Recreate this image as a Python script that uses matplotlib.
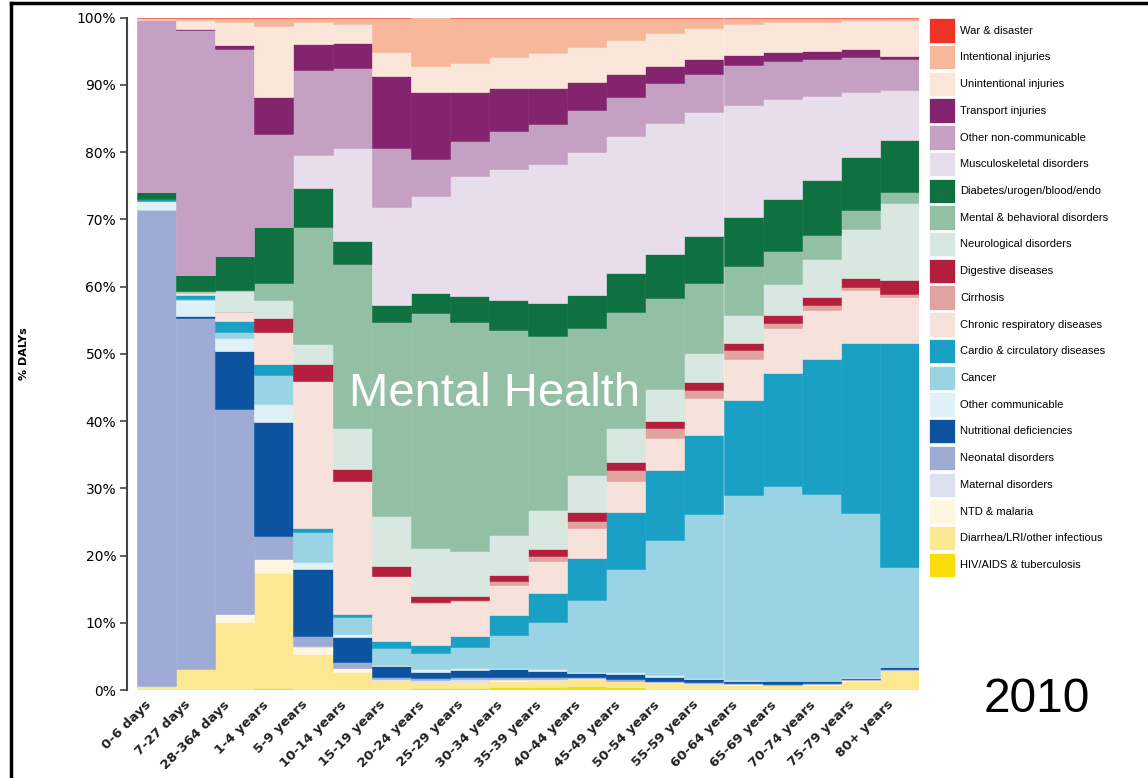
import numpy as np
import matplotlib
matplotlib.use("Agg")
import matplotlib.pyplot as plt
import matplotlib.transforms as mtransforms
from matplotlib.patches import Patch
from matplotlib.lines import Line2D

ages = ['0-6 days', '7-27 days', '28-364 days', '1-4 years', '5-9 years', '10-14 years',
        '15-19 years', '20-24 years', '25-29 years', '30-34 years', '35-39 years',
        '40-44 years', '45-49 years', '50-54 years', '55-59 years', '60-64 years',
        '65-69 years', '70-74 years', '75-79 years', '80+ years']

# % of DALYs per cause, bottom of the stack first
hiv = [0, 0, 0.2, 0.3, 0.2, 0.1, 0.1, 0.3, 0.3, 0.4, 0.5, 0.6, 0.4, 0.1, 0.05, 0.05, 0.05, 0.05, 0.05, 0]
diarrhea = [0.65, 3.05, 9.85, 17.05, 5.1, 2.6, 1.2, 0.9, 0.9, 1.0, 1.0, 1.0, 0.9, 1.0, 0.85, 0.75, 0.65, 0.75, 1.35, 3.0]
ntd = [0, 0, 1.2, 2.15, 1.15, 0.5, 0.1, 0.05, 0.05, 0.05, 0.05, 0.05, 0.05, 0.05, 0.05, 0.05, 0.05, 0.05, 0.05, 0.02]
maternal = [0, 0, 0, 0, 0.1, 0, 0.2, 0.3, 0.35, 0.2, 0.15, 0.1, 0.05, 0.05, 0.05, 0.02, 0.02, 0.02, 0.02, 0]
neonatal = [70.75, 52.25, 30.5, 3.45, 1.5, 1.0, 0.4, 0.2, 0.3, 0.3, 0.3, 0.2, 0.2, 0.2, 0.2, 0.13, 0.13, 0.13, 0.13, 0.03]
nutritional = [0, 0.3, 8.65, 16.95, 9.9, 3.65, 1.5, 1.0, 1.1, 1.15, 0.9, 0.65, 0.8, 0.6, 0.5, 0.4, 0.45, 0.35, 0.25, 0.4]
other_comm = [1.3, 2.4, 1.9, 2.6, 1.15, 0.55, 0.2, 0.3, 0.2, 0.2, 0.2, 0.15, 0.3, 0.2, 0.05, 0.05, 0.05, 0.05, 0.15, 0]
cancer = [0.1, 0.15, 0.9, 4.4, 4.4, 2.4, 2.6, 2.45, 3.15, 4.9, 7.05, 10.65, 15.25, 20.1, 24.45, 27.55, 28.95, 27.75, 24.3, 14.8]
cardio = [0.2, 0.65, 1.7, 1.6, 0.6, 0.55, 1.0, 1.25, 1.65, 2.9, 4.35, 6.25, 8.6, 10.4, 11.7, 14.1, 16.75, 20.15, 25.35, 33.4]
chronic_resp = [0, 0.2, 1.3, 4.8, 21.9, 19.8, 9.7, 6.2, 5.2, 4.55, 4.75, 4.4, 4.6, 4.85, 5.5, 6.1, 6.7, 7.2, 7.85, 6.85]
cirrhosis = [0, 0, 0, 0, 0, 0, 0, 0.2, 0.2, 0.5, 0.75, 1.1, 1.55, 1.35, 1.2, 1.4, 0.75, 0.8, 0.4, 0.4]
digestive = [0, 0, 0, 2.1, 2.5, 1.75, 1.4, 0.8, 0.6, 0.9, 1.0, 1.3, 1.15, 1.15, 1.25, 1.0, 1.25, 1.2, 1.45, 2.1]
neuro = [0.1, 0.2, 3.1, 2.6, 2.9, 6.0, 7.5, 7.15, 6.7, 6.05, 5.8, 5.5, 5.05, 4.65, 4.25, 4.2, 4.55, 5.6, 7.25, 11.4]
mental = [0, 0.1, 0.2, 2.6, 17.4, 24.5, 28.9, 34.95, 34.1, 30.4, 25.9, 21.85, 17.3, 13.65, 10.5, 7.2, 5.0, 3.6, 2.8, 1.7]
diabetes = [1.0, 2.5, 5.1, 8.2, 5.85, 3.4, 2.4, 3.0, 3.75, 4.45, 4.8, 5.0, 5.8, 6.45, 6.95, 7.4, 7.65, 8.1, 7.85, 7.7]
musculo = [0, 0, 0, 0, 4.95, 13.8, 14.6, 14.4, 17.85, 19.6, 20.8, 21.2, 20.45, 19.6, 18.45, 16.6, 14.9, 12.5, 9.75, 7.45]
other_ncd = [25.6, 36.3, 30.7, 13.85, 12.6, 11.9, 8.8, 5.6, 5.2, 5.6, 5.9, 6.2, 5.8, 5.85, 5.6, 5.9, 5.7, 5.55, 5.2, 4.55]
transport = [0, 0.2, 0.7, 5.55, 3.9, 3.7, 10.8, 9.9, 7.3, 6.4, 5.3, 4.2, 3.35, 2.55, 2.2, 1.55, 1.25, 1.15, 1.1, 0.5]
unintentional = [0.1, 1.3, 3.3, 10.5, 3.3, 2.9, 3.5, 3.9, 4.35, 4.6, 5.2, 5.3, 5.1, 4.85, 4.6, 4.6, 4.45, 4.3, 4.35, 5.4]
intentional = [0.2, 0.4, 0.7, 1.3, 0.6, 0.9, 5.1, 7.2, 6.75, 5.85, 5.3, 4.3, 3.3, 2.35, 1.6, 0.95, 0.7, 0.7, 0.35, 0.3]
war = [0, 0, 0, 0, 0, 0, 0, 0, 0, 0, 0, 0, 0, 0, 0, 0, 0, 0, 0, 0]

series = [
    ("HIV/AIDS & tuberculosis", hiv, "#f9dc0a"),
    ("Diarrhea/LRI/other infectious", diarrhea, "#fbe891"),
    ("NTD & malaria", ntd, "#fef6df"),
    ("Maternal disorders", maternal, "#dde1ef"),
    ("Neonatal disorders", neonatal, "#9eabd4"),
    ("Nutritional deficiencies", nutritional, "#0c54a0"),
    ("Other communicable", other_comm, "#dff0f6"),
    ("Cancer", cancer, "#9ad4e4"),
    ("Cardio & circulatory diseases", cardio, "#1aa0c4"),
    ("Chronic respiratory diseases", chronic_resp, "#f6e1db"),
    ("Cirrhosis", cirrhosis, "#e0a39f"),
    ("Digestive diseases", digestive, "#b31f3c"),
    ("Neurological disorders", neuro, "#d8e7e0"),
    ("Mental & behavioral disorders", mental, "#93bfa5"),
    ("Diabetes/urogen/blood/endo", diabetes, "#0f7040"),
    ("Musculoskeletal disorders", musculo, "#e8ddea"),
    ("Other non-communicable", other_ncd, "#c4a0c3"),
    ("Transport injuries", transport, "#84246f"),
    ("Unintentional injuries", unintentional, "#fbe7da"),
    ("Intentional injuries", intentional, "#f7b79b"),
    ("War & disaster", war, "#ee3224"),
]

fig = plt.figure(figsize=(11.48, 7.78), dpi=100)
ax = fig.add_axes([137 / 1148, 88 / 778, 782 / 1148, 672.3 / 778])

x = np.arange(len(ages))
bottom = np.zeros(len(ages))
for name, vals, col in series:
    v = np.array(vals, dtype=float)
    ax.bar(x, v, bottom=bottom, width=1.0, color=col, linewidth=0.4, edgecolor=col, label=name)
    bottom += v

ax.set_xlim(-0.5, len(ages) - 0.5)
ax.set_ylim(0, 100)
ax.set_yticks(np.arange(0, 101, 10))
ax.set_yticklabels(["%d%%" % t for t in range(0, 101, 10)], fontsize=10, fontweight="bold", color="#222222")
ax.set_xticks([])
# age labels, rotated, ending just left of each bar centre
offset = mtransforms.ScaledTranslation(-0.12, -0.08, fig.dpi_scale_trans)
for i, lab in enumerate(ages):
    ax.text(i, 0, lab, transform=ax.get_xaxis_transform() + offset, rotation=45,
            ha="right", va="top", rotation_mode="anchor",
            fontsize=9.5, fontweight="bold", color="#222222")
ax.tick_params(axis="y", length=5, width=1.2, color="#444444", pad=3)
for s in ["top", "right", "bottom"]:
    ax.spines[s].set_visible(False)
ax.spines["left"].set_position(("outward", 7))
ax.spines["left"].set_color("#444444")
ax.spines["left"].set_linewidth(1.5)
ax.set_ylabel("% DALYs", fontsize=8, fontweight="bold", labelpad=34)

ax.text(0.457, 0.44, "Mental Health", transform=ax.transAxes, color="white",
        fontsize=34, family="Liberation Sans", ha="center", va="center")
fig.text(1037 / 1148, 1 - 700 / 778, "2010", fontsize=34.5, family="Liberation Sans",
         ha="center", va="center", color="black")

handles = [Patch(facecolor=col, edgecolor="white", linewidth=0.5, label=name) for name, _, col in series[::-1]]
fig.legend(handles=handles, loc="upper left", bbox_to_anchor=(927 / 1148, 1 - 16 / 778),
           frameon=False, prop={"family": "Liberation Sans", "size": 8},
           handlelength=2.3, handleheight=3.0, handletextpad=0.5, labelspacing=0.21,
           borderaxespad=0, borderpad=0.2)

# frame around the figure (top and left edges)
fig.add_artist(Line2D([11 / 1148, 1.0], [1 - 3 / 778, 1 - 3 / 778], color="black", lw=2.5, transform=fig.transFigure))
fig.add_artist(Line2D([11 / 1148, 11 / 1148], [0, 1 - 3 / 778], color="black", lw=2.5, transform=fig.transFigure))

fig.savefig("out.png", dpi=100)
